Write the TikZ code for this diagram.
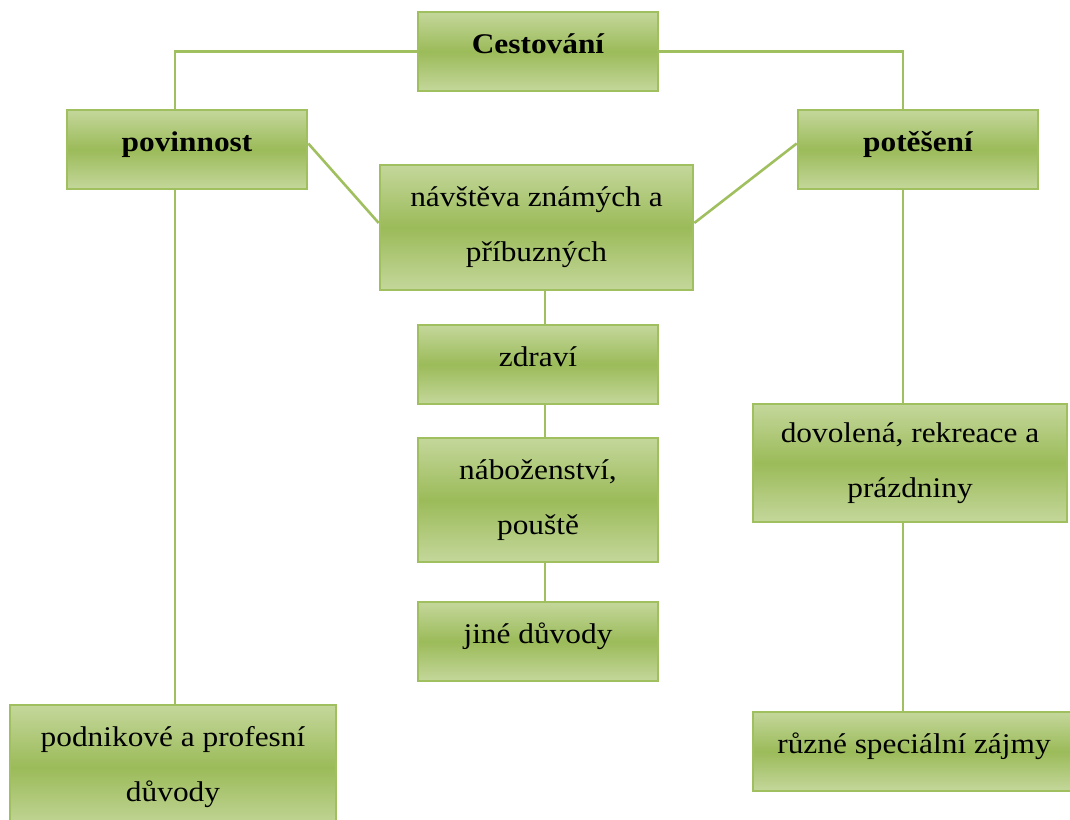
\documentclass[tikz,border=0pt]{standalone}
\usepackage{fontspec}
\setmainfont{Liberation Serif}[FakeStretch=1.1]
\definecolor{gdark}{RGB}{155,187,89}
\definecolor{glight}{RGB}{196,215,155}
\definecolor{gline}{RGB}{160,192,96}
\begin{document}
\begin{tikzpicture}[x=1pt,y=-1pt,
  boxbase/.style={draw=gline,line width=2.6pt,top color=glight,bottom color=glight,middle color=gdark,
    inner sep=0pt,align=center,font=\fontsize{28.5}{55}\selectfont},
  box/.style={boxbase,text height=20pt,text depth=16pt},
  boxtwo/.style={boxbase},
  bbox/.style={box,font=\fontsize{28.5}{55}\selectfont\bfseries},
  conn/.style={draw=gline,line width=2.6pt}]
\clip (0,0) rectangle (1070,819);
\useasboundingbox (0,0) rectangle (1070,819);
\node[bbox,minimum width=240,minimum height=79] (ces) at (538,51.5) {Cestování};
\node[bbox,minimum width=240,minimum height=79] (pov) at (187,149.5) {povinnost};
\node[bbox,minimum width=240,minimum height=79] (pot) at (918,149.5) {potěšení};
\node[boxtwo,minimum width=313,minimum height=125] (nav) at (536.5,227.5) {návštěva známých a\\příbuzných};
\node[box,minimum width=240,minimum height=79] (zdr) at (538,364.5) {zdraví};
\node[boxtwo,minimum width=240,minimum height=124] (nab) at (538,500) {náboženství,\\pouště};
\node[box,minimum width=240,minimum height=79] (jin) at (538,641.5) {jiné důvody};
\node[boxtwo,minimum width=314,minimum height=118] (dov) at (910,463) {dovolená, rekreace a\\prázdniny};
\node[boxtwo,minimum width=326,minimum height=125] (pod) at (173,767.5) {podnikové a profesní\\důvody};
\node[box,minimum width=322,minimum height=79] (ruz) at (914,751.5) {různé speciální zájmy};
\coordinate (lc) at (175,0);
\coordinate (rc) at (903,0);
\coordinate (mc) at (545,0);
\draw[conn] (ces.west) -| (pov.north -| lc);
\draw[conn] (ces.east) -| (pot.north -| rc);
\draw[conn] ([yshift=6pt]pov.east) -- ([yshift=4.5pt]nav.west);
\draw[conn] ([yshift=6pt]pot.west) -- ([yshift=4.5pt]nav.east);
\draw[conn] (nav.south -| mc) -- (zdr.north -| mc);
\draw[conn] (zdr.south -| mc) -- (nab.north -| mc);
\draw[conn] (nab.south -| mc) -- (jin.north -| mc);
\draw[conn] (pov.south -| lc) -- (pod.north -| lc);
\draw[conn] (pot.south -| rc) -- (dov.north -| rc);
\draw[conn] (dov.south -| rc) -- (ruz.north -| rc);
\end{tikzpicture}
\end{document}
